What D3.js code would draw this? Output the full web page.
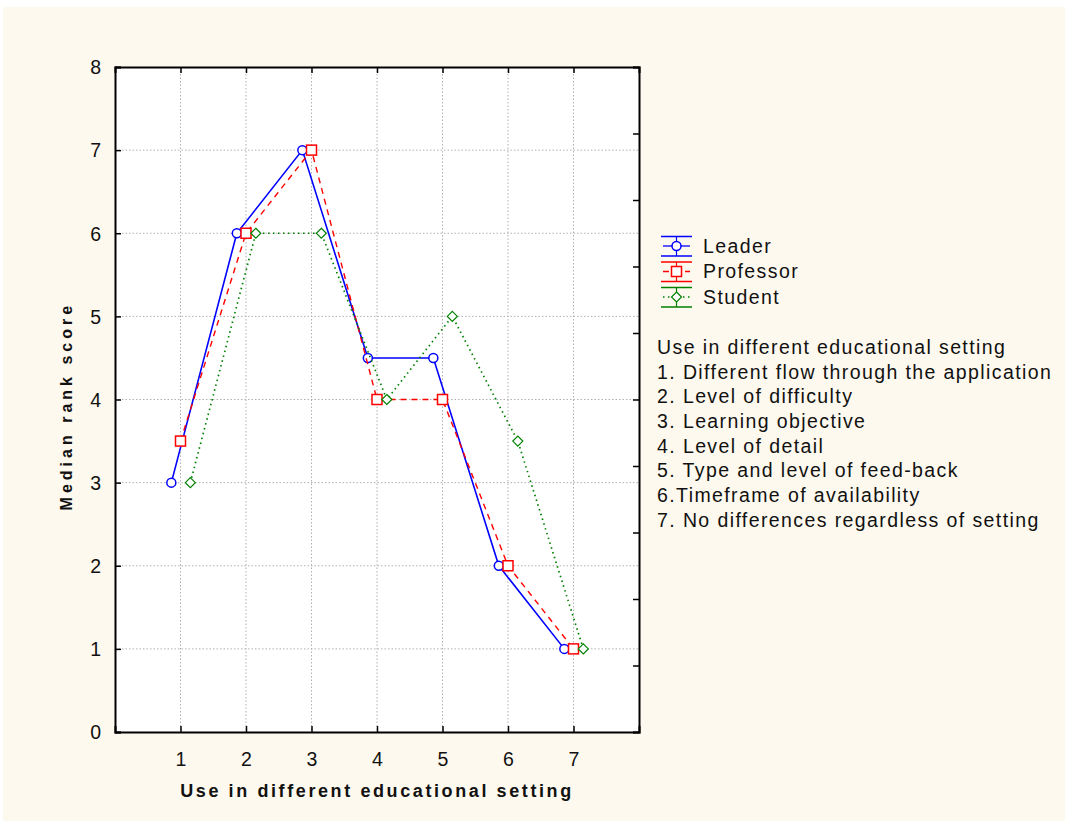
<!DOCTYPE html>
<html><head><meta charset="utf-8">
<script src="https://cdn.jsdelivr.net/npm/d3@7"></script>
<style>
body{margin:0;background:#fff;}
svg{display:block;}
</style></head>
<body>
<svg id="c" width="1065" height="821"></svg>
<script>
const categories = [1, 2, 3, 4, 5, 6, 7];
const leader = [3, 6, 7, 4.5, 4.5, 2, 1];
const professor = [3.5, 6, 7, 4, 4, 2, 1];
const student = [3, 6, 6, 4, 5, 3.5, 1];
const yTicks = [0, 1, 2, 3, 4, 5, 6, 7, 8];
const seriesNames = ["Leader", "Professor", "Student"];
const legendLines = [
  "Use in different educational setting",
  "1. Different flow through the application",
  "2. Level of difficulty",
  "3. Learning objective",
  "4. Level of detail",
  "5. Type and level of feed-back",
  "6.Timeframe of availability",
  "7. No differences regardless of setting"
];

const svg = d3.select("#c");
svg.append("rect").attr("x", 3).attr("y", 7).attr("width", 1062).attr("height", 814).attr("fill", "#fef9ee");

const L = 115, R = 639, T = 67, B = 732;
const x = d3.scaleLinear().domain([0, 8]).range([L, R]);
const y = d3.scaleLinear().domain([0, 8]).range([B, T]);

svg.append("rect").attr("x", L).attr("y", T).attr("width", R - L).attr("height", B - T).attr("fill", "#fff");

// grid
const g = svg.append("g");
g.selectAll(".hg").data(yTicks.slice(1, -1)).enter().append("line")
  .attr("x1", L).attr("x2", R).attr("y1", d => y(d)).attr("y2", d => y(d))
  .attr("stroke", "#b0b0b0").attr("stroke-width", 1).attr("stroke-dasharray", "1.5,2");
g.selectAll(".vg").data(categories).enter().append("line")
  .attr("y1", T).attr("y2", B).attr("x1", d => x(d)).attr("x2", d => x(d))
  .attr("stroke", "#b0b0b0").attr("stroke-width", 1).attr("stroke-dasharray", "1.5,2");

// axes
const fontTick = "Arial, 'Liberation Sans', sans-serif";
const ax = svg.append("g").attr("transform", `translate(0,${B})`)
  .call(d3.axisBottom(x).tickValues(categories).tickSize(-6).tickPadding(20).tickFormat(d3.format("d")));
const ay = svg.append("g").attr("transform", `translate(${L},0)`)
  .call(d3.axisLeft(y).tickValues(yTicks).tickSize(-6).tickPadding(14).tickFormat(d3.format("d")));
const at = svg.append("g").attr("transform", `translate(0,${T})`)
  .call(d3.axisTop(x).tickValues(categories).tickSize(-6).tickFormat(""));
const rScale = d3.scaleLinear().domain([0, 10]).range([B, T]);
const ar = svg.append("g").attr("transform", `translate(${R},0)`)
  .call(d3.axisRight(rScale).ticks(10).tickSize(-6).tickFormat(""));
[ax, ay, at, ar].forEach(a => {
  a.select(".domain").attr("stroke", "#000").attr("stroke-width", 2);
  a.selectAll(".tick line").attr("stroke", "#000").attr("stroke-width", 1.5);
  a.selectAll("text").attr("font-family", fontTick).attr("font-size", 19.5).attr("fill", "#111");
});
ay.selectAll("text").attr("dy", "0.35em");

// axis titles
svg.append("text").attr("x", x(4)).attr("y", 797).attr("text-anchor", "middle")
  .attr("font-family", fontTick).attr("font-weight", "bold").attr("font-size", 18)
  .attr("letter-spacing", 2.6).attr("fill", "#111").text("Use in different educational setting");
svg.append("text").attr("transform", `translate(72,${y(3.92)}) rotate(-90)`).attr("text-anchor", "middle")
  .attr("font-family", fontTick).attr("font-weight", "bold").attr("font-size", 16)
  .attr("letter-spacing", 4).attr("fill", "#111").text("Median rank score");

// series
const series = [
  {name: seriesNames[0], vals: leader, color: "#0000ff", dash: null, off: -0.14, shape: "circle"},
  {name: seriesNames[1], vals: professor, color: "#ff0000", dash: "6,5", off: 0.0, shape: "square"},
  {name: seriesNames[2], vals: student, color: "#008000", dash: "1.5,3.5", off: 0.15, shape: "diamond"}
];
const line = d3.line().x(d => d[0]).y(d => d[1]);
function marker(sel, shape, color, cx, cy) {
  if (shape === "circle") {
    sel.append("circle").attr("cx", cx).attr("cy", cy).attr("r", 4.5)
      .attr("fill", "#fff").attr("stroke", color).attr("stroke-width", 1.5);
  } else if (shape === "square") {
    sel.append("rect").attr("x", cx - 5).attr("y", cy - 5).attr("width", 10).attr("height", 10)
      .attr("fill", "#fff").attr("stroke", color).attr("stroke-width", 1.5);
  } else {
    sel.append("path").attr("d", `M${cx},${cy - 5}L${cx + 5},${cy}L${cx},${cy + 5}L${cx - 5},${cy}Z`)
      .attr("fill", "#fff").attr("stroke", color).attr("stroke-width", 1.2);
  }
}
series.forEach(s => {
  const pts = categories.map((c, i) => [x(c + s.off), y(s.vals[i])]);
  svg.append("path").attr("d", line(pts)).attr("fill", "none").attr("stroke", s.color)
    .attr("stroke-width", s.shape === "diamond" ? 1.7 : (s.shape === "circle" ? 1.6 : 1.4))
    .attr("stroke-dasharray", s.dash);
  const mg = svg.append("g");
  pts.forEach(p => marker(mg, s.shape, s.color, p[0], p[1]));
});

// legend
const lg = svg.append("g");
series.forEach((s, i) => {
  const cy = 246 + i * 25.5;
  const x0 = 661, x1 = 692, xm = 676.5;
  lg.append("line").attr("x1", x0).attr("x2", x1).attr("y1", cy - 9.5).attr("y2", cy - 9.5).attr("stroke", s.color).attr("stroke-width", 1.5);
  lg.append("line").attr("x1", x0).attr("x2", x1).attr("y1", cy + 10).attr("y2", cy + 10).attr("stroke", s.color).attr("stroke-width", 1.5);
  lg.append("line").attr("x1", xm).attr("x2", xm).attr("y1", cy - 9.5).attr("y2", cy + 10).attr("stroke", s.color).attr("stroke-width", 1.2);
  lg.append("line").attr("x1", x0 + 2).attr("x2", x1 - 2).attr("y1", cy).attr("y2", cy).attr("stroke", s.color).attr("stroke-width", 1.3).attr("stroke-dasharray", s.dash);
  marker(lg, s.shape, s.color, xm, cy);
  lg.append("text").attr("x", 703).attr("y", cy).attr("dy", "0.35em")
    .attr("font-family", fontTick).attr("font-size", 19.5).attr("letter-spacing", 1.4).attr("fill", "#111").text(s.name);
});
legendLines.forEach((t, i) => {
  lg.append("text").attr("x", 657).attr("y", 347 + i * 24.7).attr("dy", "0.35em")
    .attr("font-family", fontTick).attr("font-size", 19.5).attr("fill", "#111").attr("letter-spacing", 1.4).text(t);
});
</script>
</body></html>
